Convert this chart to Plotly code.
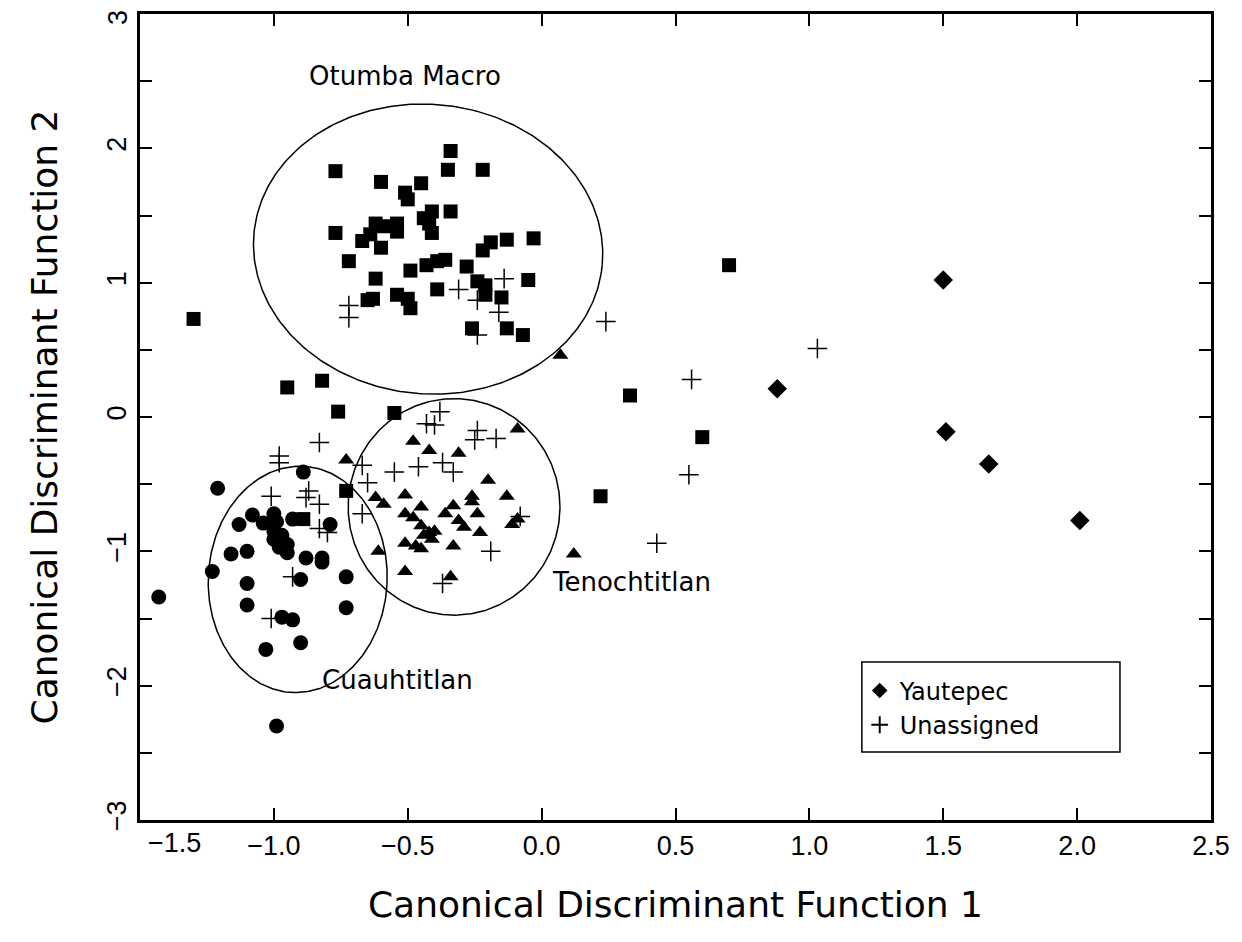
import numpy as np
import plotly.graph_objects as go

# ---------------- data ----------------
otumba_x = [-0.77, -0.60, -0.45, -0.34, -0.35, -0.22, -0.51, -0.50, -0.41, -0.34, -0.44, -0.42,
            -0.41, -0.77, -0.62, -0.59, -0.54, -0.54, -0.64, -0.67, -0.60, -0.72, -0.62, -0.49,
            -0.43, -0.39, -0.36, -0.28, -0.22, -0.19, -0.13, -0.03, -0.05, -0.24, -0.21, -0.21,
            -0.15, -0.39, -0.63, -0.65, -0.54, -0.50, -0.49, -0.26, -0.13, -0.07,
            -1.30, -0.95, -0.82, -0.76, -0.55, -0.73, 0.70, 0.33, 0.60, 0.22, -0.89]
otumba_y = [1.83, 1.75, 1.74, 1.98, 1.84, 1.84, 1.67, 1.62, 1.53, 1.53, 1.48, 1.44,
            1.37, 1.37, 1.44, 1.42, 1.44, 1.38, 1.36, 1.31, 1.26, 1.16, 1.03, 1.09,
            1.13, 1.16, 1.17, 1.12, 1.24, 1.30, 1.32, 1.33, 1.02, 1.01, 0.98, 0.91,
            0.89, 0.95, 0.88, 0.87, 0.91, 0.88, 0.81, 0.66, 0.66, 0.61,
            0.73, 0.22, 0.27, 0.04, 0.03, -0.55, 1.13, 0.16, -0.15, -0.59, -0.76]

cuauh_x = [-1.21, -0.89, -1.13, -1.08, -1.00, -0.99, -1.00, -1.00, -0.98, -0.95, -0.95, -0.93,
           -0.79, -1.16, -1.10, -0.88, -0.82, -1.23, -1.43, -0.82, -1.10, -0.90, -0.73, -1.10,
           -0.73, -0.97, -0.93, -0.90, -1.03, -0.99, -1.04, -0.97]
cuauh_y = [-0.53, -0.41, -0.80, -0.73, -0.72, -0.78, -0.85, -0.91, -0.97, -0.95, -1.01, -0.76,
           -0.80, -1.02, -1.00, -1.05, -1.05, -1.15, -1.34, -1.08, -1.24, -1.21, -1.19, -1.40,
           -1.42, -1.49, -1.51, -1.68, -1.73, -2.30, -0.79, -0.88]

tenoch_x = [0.07, 0.12, -0.09, -0.48, -0.42, -0.31, -0.73, -0.20, -0.13, -0.51, -0.62, -0.59,
            -0.26, -0.26, -0.33, -0.36, -0.45, -0.51, -0.48, -0.31, -0.24, -0.09, -0.11, -0.29,
            -0.23, -0.45, -0.42, -0.40, -0.44, -0.41, -0.51, -0.47, -0.45, -0.33, -0.61, -0.51,
            -0.34]
tenoch_y = [0.46, -1.02, -0.09, -0.18, -0.25, -0.27, -0.32, -0.47, -0.59, -0.58, -0.60, -0.65,
            -0.59, -0.63, -0.66, -0.72, -0.67, -0.72, -0.75, -0.77, -0.72, -0.76, -0.80, -0.82,
            -0.86, -0.81, -0.86, -0.85, -0.88, -0.91, -0.94, -0.96, -0.98, -0.96, -1.00, -1.15,
            -1.19]

yaut_x = [1.50, 0.88, 1.51, 1.67, 2.01]
yaut_y = [1.02, 0.21, -0.11, -0.35, -0.77]

unas_x = [0.24, 1.03, 0.56, 0.55, 0.43, -0.72, -0.72, -0.31, -0.24, -0.14, -0.16, -0.24,
          -0.38, -0.43, -0.40, -0.24, -0.25, -0.17, -0.55, -0.46, -0.37, -0.33, -0.67, -0.65,
          -0.67, -0.19, -0.08, -0.37, -0.83, -0.98, -0.98, -1.01, -0.87, -0.88, -0.83, -0.83,
          -0.80, -0.93, -1.01]
unas_y = [0.71, 0.51, 0.28, -0.43, -0.94, 0.83, 0.74, 0.95, 0.87, 1.03, 0.78, 0.61,
          0.04, -0.05, -0.06, -0.10, -0.17, -0.16, -0.41, -0.37, -0.34, -0.41, -0.36, -0.49,
          -0.72, -1.00, -0.74, -1.24, -0.19, -0.29, -0.34, -0.59, -0.55, -0.60, -0.65, -0.83,
          -0.86, -1.19, -1.50]

# group ellipses: centre, semi-axes (in y-units), tilt (deg)
ell_names = ["Otumba Macro", "Tenochtitlan", "Cuauhtitlan"]
ell_cx = [-0.424, -0.327, -0.911]
ell_cy = [1.25, -0.669, -1.209]
ell_a = [1.306, 0.791, 0.668]
ell_b = [1.078, 0.806, 0.843]
ell_tilt = [-5, 0, -3]
ell_label_x = [-0.51, 0.335, -0.54]
ell_label_y = [2.54, -1.23, -1.96]

x_ticks = [-1.0, -0.5, 0.0, 0.5, 1.0, 1.5, 2.0, 2.5]
y_ticks = [-3, -2, -1, 0, 1, 2, 3]
y_tick_text = ["\u22123", "\u22122", "\u22121", "0", "1", "2", ""]
x_corner_label = "\u22121.5"
y_corner_label = "3"

# ---------------- figure ----------------
fig = go.Figure()

ASPECT = 2.0  # one x-unit spans twice the pixels of one y-unit
t = np.linspace(0, 2 * np.pi, 361)
for cx, cy, a, b, th in zip(ell_cx, ell_cy, ell_a, ell_b, ell_tilt):
    r = np.deg2rad(th)
    u = a * np.cos(t) * np.cos(r) - b * np.sin(t) * np.sin(r)
    v = a * np.cos(t) * np.sin(r) + b * np.sin(t) * np.cos(r)
    fig.add_trace(go.Scatter(x=cx + u / ASPECT, y=cy + v, mode="lines",
                             line=dict(color="black", width=1.5),
                             showlegend=False, hoverinfo="skip"))

fig.add_trace(go.Scatter(x=otumba_x, y=otumba_y, mode="markers", name="Otumba Macro",
                         marker=dict(symbol="square", size=14, color="black"), showlegend=False))
fig.add_trace(go.Scatter(x=cuauh_x, y=cuauh_y, mode="markers", name="Cuauhtitlan",
                         marker=dict(symbol="circle", size=15, color="black"), showlegend=False))
fig.add_trace(go.Scatter(x=tenoch_x, y=tenoch_y, mode="markers", name="Tenochtitlan",
                         marker=dict(symbol="triangle-up", size=14, color="black"), showlegend=False))
fig.add_trace(go.Scatter(x=yaut_x, y=yaut_y, mode="markers", name="Yautepec",
                         marker=dict(symbol="diamond", size=15, color="black")))
fig.add_trace(go.Scatter(x=unas_x, y=unas_y, mode="markers", name="Unassigned",
                         marker=dict(symbol="cross-thin", size=14, color="black",
                                     line=dict(color="black", width=1.5))))

label_font = dict(family="DejaVu Sans", size=26, color="black")
for name, lx, ly in zip(ell_names, ell_label_x, ell_label_y):
    fig.add_annotation(x=lx, y=ly, text=name, showarrow=False, font=label_font,
                       xanchor="center", yanchor="middle")

tick_font = dict(family="Liberation Sans", size=27, color="black")
# corner tick labels, nudged inward as in the original
fig.add_annotation(x=-1.5, y=0, yref="paper", text=x_corner_label, showarrow=False,
                   xanchor="center", yanchor="top", xshift=34, yshift=-6, font=tick_font)
fig.add_annotation(x=0, xref="paper", y=3, text=y_corner_label, showarrow=False,
                   textangle=-90, xanchor="center", yanchor="middle",
                   xshift=-22, yshift=-4, font=tick_font)

# legend box
fig.add_shape(type="rect", xref="paper", yref="paper",
              x0=0.674, x1=0.915, y0=0.0844, y1=0.196,
              line=dict(color="black", width=1.5), fillcolor="white", layer="below")

axis_common = dict(showline=True, linecolor="black", linewidth=3, mirror="allticks",
                   ticks="inside", ticklen=12, tickwidth=1.5, tickcolor="black",
                   showgrid=False, zeroline=False, automargin=False,
                   ticklabeloverflow="allow", tickfont=tick_font)

fig.update_xaxes(range=[-1.5, 2.5], tickvals=x_ticks, tickformat=".1f",
                 title=dict(text="Canonical Discriminant Function 1",
                            font=dict(family="DejaVu Sans", size=36, color="black"),
                            standoff=32),
                 **axis_common)
fig.update_yaxes(range=[-3, 3], tickvals=y_ticks, ticktext=y_tick_text, tickangle=-90,
                 minor=dict(dtick=0.5, ticks="inside", ticklen=12, tickwidth=1.5,
                            tickcolor="black", showgrid=False),
                 title=dict(text="Canonical Discriminant Function 2",
                            font=dict(family="DejaVu Sans", size=36, color="black"),
                            standoff=34),
                 **axis_common)

# page body adds an 8px offset, so margins compensate
fig.update_layout(
    width=1242, height=942,
    margin=dict(l=132, r=39, t=6, b=130),
    paper_bgcolor="white", plot_bgcolor="white",
    legend=dict(x=0.672, y=0.188, xanchor="left", yanchor="top",
                bgcolor="rgba(0,0,0,0)", borderwidth=0,
                font=dict(family="DejaVu Sans", size=24, color="black"),
                itemsizing="constant"),
)

fig.write_html("out.html")
